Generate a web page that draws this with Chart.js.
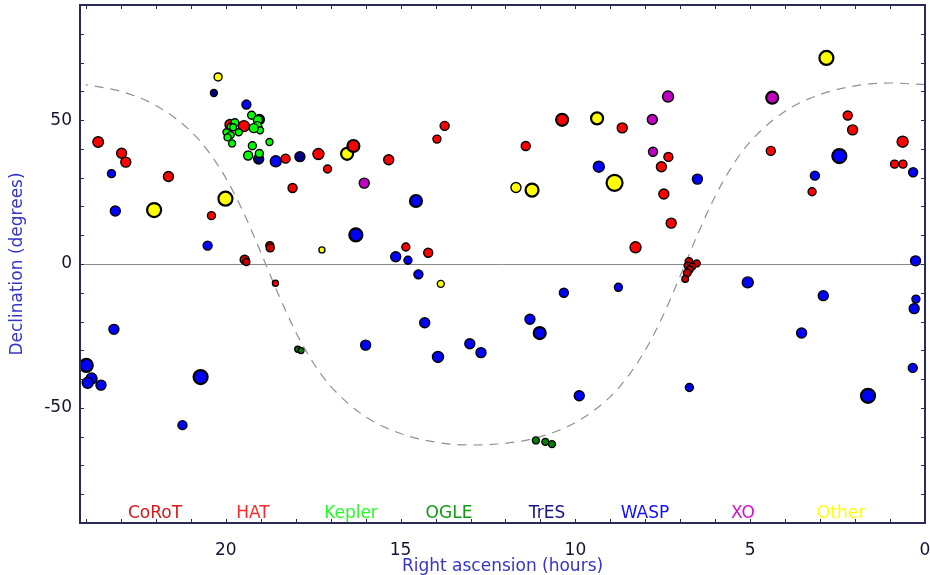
<!DOCTYPE html>
<html>
<head>
<meta charset="utf-8">
<script src="https://cdn.jsdelivr.net/npm/chart.js@4"></script>
<style>
    body { margin: 0; background: #fff; }
    #wrap { width: 930px; height: 575px; }
</style>
</head>
<body>
<div id="wrap"><canvas id="sky" width="930" height="575"></canvas></div>
<script>
// [right ascension (h), declination (deg), marker size]
var corot = [[18.74, 6.4, 4], [18.73, 5.6, 4], [19.46, 1.5, 4.5], [19.41, 0.7, 3.5],
    [6.75, 0.9, 3.8], [6.53, 0.2, 3.5], [6.79, -0.6, 3.5], [6.66, -0.9, 3.5],
    [6.73, -1.9, 3.5], [6.80, -3.1, 3.8], [6.86, -5.2, 3.3]];
var hat = [[23.65, 42.4, 5.3], [22.98, 38.5, 5], [22.86, 35.4, 5], [21.64, 30.4, 5],
    [20.41, 16.8, 4], [19.48, 47.9, 5.5], [19.88, 48.5, 5], [18.29, 36.6, 4.5],
    [17.35, 38.2, 5.5], [17.09, 33.0, 4], [18.09, 26.4, 4.5], [16.35, 41.0, 6],
    [15.34, 36.2, 5], [13.74, 48.0, 4.5], [13.96, 43.4, 4], [14.85, 5.9, 4],
    [14.21, 3.9, 4.5], [11.42, 41.0, 4.5], [10.38, 50.1, 6], [8.66, 47.3, 5],
    [8.28, 5.8, 5.5], [7.34, 37.2, 4.5], [7.54, 33.8, 5], [7.47, 24.3, 5],
    [7.26, 14.2, 5], [4.41, 39.3, 4.5], [2.21, 51.6, 4.5], [2.07, 46.6, 5],
    [3.23, 25.1, 4], [0.64, 42.5, 5.5], [0.87, 34.7, 4], [0.63, 34.7, 4],
    [18.58, -6.7, 3]];
var kepler = [[19.26, 51.7, 4], [19.08, 50.0, 4.5], [19.10, 47.9, 4.5], [19.02, 46.5, 3.5],
    [19.20, 47.2, 4.5], [19.74, 49.1, 4], [19.86, 47.7, 3.5], [19.79, 47.5, 3.5],
    [19.63, 45.8, 3.5], [19.98, 45.8, 3.5], [19.86, 44.8, 3.5], [19.95, 44.0, 3.5],
    [19.82, 41.9, 3.5], [19.24, 41.1, 4], [18.75, 42.4, 3.5], [19.36, 37.7, 4.5],
    [19.04, 38.4, 4]];
var ogle = [[17.94, -29.6, 3], [17.85, -30.1, 3], [11.13, -61.3, 3.5], [10.86, -61.8, 3.5],
    [10.67, -62.6, 3.5]];
var tres = [[20.34, 59.4, 3.5], [19.04, 50.2, 5], [19.06, 36.5, 5], [17.88, 37.3, 5]];
var wasp = [[19.41, 55.4, 4.5], [23.27, 31.4, 4], [23.16, 18.4, 5], [20.52, 6.4, 4.5],
    [16.28, 10.1, 6.5], [18.57, 35.7, 5.5], [14.56, 21.9, 6], [15.14, 2.5, 5],
    [14.79, 1.3, 4], [9.33, 33.8, 5.5], [6.51, 29.5, 5], [2.45, 37.5, 7],
    [3.15, 30.7, 4.5], [0.34, 31.9, 4.5], [0.27, 1.1, 5], [5.07, -6.4, 5.5],
    [2.91, -11.0, 5], [0.26, -12.2, 4], [0.31, -15.5, 5], [3.53, -24.0, 5],
    [0.35, -36.1, 4.5], [6.74, -42.9, 4], [1.63, -45.8, 7], [14.49, -3.6, 4.5],
    [10.33, -10.0, 4.5], [8.77, -8.1, 4], [14.31, -20.4, 5], [11.30, -19.2, 5],
    [11.02, -24.0, 6], [16.00, -28.2, 5], [13.02, -27.7, 5], [12.70, -30.8, 5],
    [13.93, -32.3, 5.5], [9.89, -45.8, 5], [23.20, -22.7, 5], [23.99, -35.2, 6.5],
    [23.84, -39.8, 5.5], [23.95, -41.3, 5.5], [23.57, -42.1, 5], [20.72, -39.3, 7],
    [21.24, -56.0, 4.5]];
var xo = [[16.04, 28.1, 5], [7.35, 58.2, 5.5], [7.80, 50.2, 5], [7.78, 39.0, 4.5], [4.37, 57.8, 6]];
var other = [[20.22, 65.0, 4], [22.05, 18.75, 7], [20.01, 22.7, 7], [17.25, 4.9, 3],
    [16.53, 38.3, 6], [13.85, -6.9, 3.5], [11.70, 26.6, 5], [11.24, 25.7, 6.5],
    [9.38, 50.6, 6], [8.88, 28.2, 8], [2.82, 71.6, 7]];

// galactic plane (dashed)
var galRa = [0, 1, 2, 3, 4, 5, 5.5, 6, 6.5, 7, 7.5, 8, 8.5, 9, 10, 11, 12, 13, 14, 15, 16, 17, 17.5, 18, 18.5, 19, 19.5, 20, 20.5, 21, 22, 23, 24];
var galDec = [62.3, 62.9, 61.9, 58.9, 53.1, 42.5, 34.3, 23.6, 10.4, -4.1, -18.1, -29.9, -39.1, -46.1, -55.1, -60.0, -62.3, -62.9, -61.9, -58.9, -53.1, -42.5, -34.3, -23.6, -10.4, 4.1, 18.1, 29.9, 39.1, 46.1, 55.1, 60.0, 62.3];

var namen = ["CoRoT", "HAT", "Kepler", "OGLE", "TrES", "WASP", "XO", "Other"];
var textfarben = ["#d81818", "#ff2a2a", "#22ff22", "#129a12", "#141480", "#1010ff", "#d010d0", "#ffff10"];

function punkte(liste) {
    return liste.map(function (p) { return {x: p[0], y: p[1], s: p[2]}; });
}

function serie(label, liste, farbe) {
    return {
        label: label,
        data: punkte(liste),
        backgroundColor: farbe,
        borderColor: "#000",
        borderWidth: function (c) { return c.raw && c.raw.s >= 6 ? 2.2 : 1.4; },
        pointRadius: function (c) { return c.raw ? c.raw.s : 3; },
        pointHoverRadius: function (c) { return c.raw ? c.raw.s : 3; }
    };
}

var galaxie = galRa.map(function (r, i) { return {x: r, y: galDec[i]}; });

// keine automatischen Raender der Achsen
function ohneRand(s) {
    s.paddingLeft = 0; s.paddingRight = 0; s.paddingTop = 0; s.paddingBottom = 0;
}

var rahmen = {
    id: "rahmen",
    afterDatasetsDraw: function (chart) {
        var ctx = chart.ctx;
        var a = chart.chartArea;
        ctx.save();
        ctx.font = '17px "DejaVu Sans"';
        ctx.textAlign = "center";
        ctx.textBaseline = "alphabetic";
        for (var i = 0; i < namen.length; i++) {
            ctx.fillStyle = textfarben[i];
            ctx.fillText(namen[i], a.left + 75 + i * 98, a.bottom - 5);
        }
        ctx.restore();
    },
    afterDraw: function (chart) {
        var ctx = chart.ctx;
        var a = chart.chartArea;
        var sx = chart.scales.x, sy = chart.scales.y;
        ctx.save();
        ctx.strokeStyle = "#2a2a58";
        ctx.lineWidth = 1;
        ctx.beginPath();
        for (var h = 1; h <= 24; h++) {
            var px = Math.round(sx.getPixelForValue(h)) + 0.5;
            ctx.moveTo(px, a.bottom); ctx.lineTo(px, a.bottom - 4);
            ctx.moveTo(px, a.top); ctx.lineTo(px, a.top + 4);
        }
        for (var d = -80; d <= 80; d += 10) {
            var py = Math.round(sy.getPixelForValue(d)) + 0.5;
            ctx.moveTo(a.left, py); ctx.lineTo(a.left + 4, py);
            ctx.moveTo(a.right, py); ctx.lineTo(a.right - 4, py);
        }
        ctx.stroke();
        ctx.lineWidth = 2;
        ctx.strokeRect(a.left, a.top, a.right - a.left, a.bottom - a.top);
        ctx.restore();
    }
};

Chart.defaults.font.family = '"DejaVu Sans"';

var ctx = document.getElementById("sky").getContext("2d");
var myChart = new Chart(ctx, {
    type: "scatter",
    data: {
        datasets: [
            serie("Kepler", kepler, "#00ff00"),
            serie("HAT", hat, "#ff0000"),
            serie("CoRoT", corot, "#c80000"),
            serie("TrES", tres, "#000080"),
            serie("WASP", wasp, "#0000ff"),
            serie("XO", xo, "#c000c0"),
            serie("OGLE", ogle, "#008000"),
            serie("Other", other, "#ffff00"),
            {
                label: "Galaxie",
                data: galaxie,
                showLine: true,
                pointRadius: 0,
                borderColor: "#909090",
                borderWidth: 1.2,
                borderDash: [9, 7],
                cubicInterpolationMode: "monotone",
                order: 10
            }
        ]
    },
    options: {
        responsive: false,
        animation: false,
        devicePixelRatio: 1,
        layout: { autoPadding: false, padding: { left: 0, right: 5, top: 5, bottom: 0 } },
        plugins: { legend: { display: false }, tooltip: { enabled: false } },
        scales: {
            x: {
                type: "linear",
                reverse: true,
                min: 0,
                max: 24.17,
                afterFit: function (s) { s.height = 52; ohneRand(s); },
                grid: { display: false },
                border: { display: false },
                ticks: { stepSize: 5, includeBounds: false, padding: 9, color: "#141430", font: { size: 17 } },
                title: { display: true, text: "Right ascension (hours)", color: "#3535c8", font: { size: 17 }, padding: { top: 0, bottom: -2 } }
            },
            y: {
                min: -90,
                max: 90,
                afterFit: function (s) { s.width = 80; ohneRand(s); },
                grid: {
                    drawTicks: false,
                    color: function (c) { return c.tick && c.tick.value === 0 ? "#8a8a8a" : "rgba(0,0,0,0)"; },
                    lineWidth: 1
                },
                border: { display: false },
                ticks: { stepSize: 50, includeBounds: false, padding: 8, color: "#141430", font: { size: 17 } },
                title: { display: true, text: "Declination (degrees)", color: "#3535c8", font: { size: 17 }, padding: { top: 7, bottom: 0 } }
            }
        }
    },
    plugins: [rahmen]
});
</script>
</body>
</html>
